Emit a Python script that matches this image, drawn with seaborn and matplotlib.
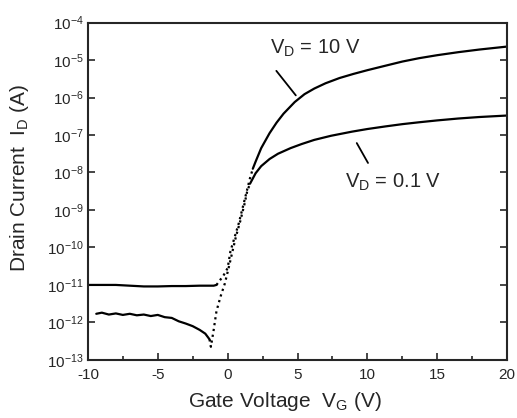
import numpy as np
import matplotlib
matplotlib.use('Agg')
import matplotlib.pyplot as plt
import seaborn as sns
from matplotlib.ticker import LogLocator, MultipleLocator, NullLocator

# Transfer curves: gate voltage (V) and log10 of drain current (A)
# V_D = 10 V
vg_10_off = [-10, -9, -8, -7, -6, -5, -4, -3, -2, -1, -0.8]
log_id_10_off = [-11.0, -11.0, -11.0, -11.02, -11.04, -11.04, -11.03, -11.03, -11.02, -11.02, -11.0]
vg_10_sub = [-0.8, -0.6, -0.3, 0.0, 0.2, 0.4, 0.6, 0.8, 1.0, 1.2, 1.4, 1.6, 1.8]
log_id_10_sub = [-11.0, -10.9, -10.75, -10.55, -10.1, -9.85, -9.6, -9.35, -9.05, -8.75, -8.45, -8.15, -7.9]
vg_10_on = [1.8, 2.0, 2.4, 3.0, 3.5, 4.0, 4.8, 5.5, 6.2, 7.0, 8.0, 9.0, 10, 11.3, 12.5, 13.7, 15,
            16.5, 18, 20]
log_id_10_on = [-7.9, -7.71, -7.35, -6.95, -6.67, -6.43, -6.12, -5.91, -5.76, -5.62, -5.48, -5.37,
                -5.27, -5.15, -5.04, -4.95, -4.87, -4.79, -4.72, -4.64]

# V_D = 0.1 V
vg_01_off = [-9.4, -9.0, -8.5, -8.0, -7.5, -7.0, -6.5, -6.0, -5.5, -5.0, -4.5, -4.0, -3.5, -3.0,
             -2.5, -2.0, -1.6, -1.3]
log_id_01_off = [-11.77, -11.74, -11.79, -11.76, -11.8, -11.77, -11.81, -11.79, -11.83, -11.8, -11.86,
                 -11.88, -11.97, -12.03, -12.1, -12.2, -12.3, -12.45]
vg_01_sub = [-1.3, -1.2, -1.0, -0.8, -0.5, -0.2, 0.1, 0.36, 0.6, 0.9, 1.2, 1.4, 1.6]
log_id_01_sub = [-12.45, -12.65, -12.2, -11.7, -11.3, -10.96, -10.5, -10.08, -9.7, -9.3, -8.85, -8.5, -8.3]
vg_01_on = [1.6, 2.0, 2.4, 3.0, 3.6, 4.5, 5.3, 6.2, 7.4, 8.9, 10, 11.3, 12.5, 13.7, 15, 16.5, 18, 20]
log_id_01_on = [-8.3, -8.02, -7.83, -7.64, -7.5, -7.35, -7.24, -7.13, -7.02, -6.91, -6.84, -6.77,
                -6.71, -6.66, -6.61, -6.56, -6.52, -6.48]

sns.set_style('ticks')
plt.rcParams['font.family'] = ['Liberation Sans', 'DejaVu Sans']
plt.rcParams['mathtext.fontset'] = 'custom'
plt.rcParams['mathtext.rm'] = 'Liberation Sans'
plt.rcParams['mathtext.it'] = 'Liberation Sans:italic'
plt.rcParams['axes.unicode_minus'] = False

fig = plt.figure(figsize=(5.17, 4.18), dpi=100)
ax = fig.add_axes([0.170, 0.139, 0.811, 0.807])

segments = [
    (vg_10_off, log_id_10_off, '-'),
    (vg_10_sub, log_id_10_sub, ':'),
    (vg_10_on, log_id_10_on, '-'),
    (vg_01_off, log_id_01_off, '-'),
    (vg_01_sub, log_id_01_sub, ':'),
    (vg_01_on, log_id_01_on, '-'),
]
for vg, logi, ls in segments:
    sns.lineplot(x=vg, y=np.power(10.0, logi), ax=ax, color='black', lw=1.6,
                 linestyle=ls, sort=False, estimator=None)

ax.set_yscale('log')
ax.set_xlim(-10, 20)
ax.set_ylim(1e-13, 1e-4)
ax.yaxis.set_major_locator(LogLocator(base=10, numticks=20))
ax.yaxis.set_minor_locator(NullLocator())
ax.xaxis.set_major_locator(MultipleLocator(5))
ax.xaxis.set_minor_locator(MultipleLocator(2.5))
ax.tick_params(axis='both', which='major', direction='in', length=5, width=1.2,
               right=True, top=False, labelsize=11)
ax.tick_params(axis='both', which='minor', direction='in', length=3, width=1.2,
               right=True, top=False)
ax.tick_params(axis='x', which='major', pad=6)
ax.tick_params(axis='y', which='major', pad=3)
for s in ax.spines.values():
    s.set_linewidth(1.5)

ax.set_xlabel('Gate Voltage  V$_\\mathregular{G}$ (V)', fontsize=15)
ax.set_ylabel('Drain Current  I$_\\mathregular{D}$ (A)', fontsize=15)
ax.xaxis.set_label_coords(0.47, -0.09)
ax.yaxis.set_label_coords(-0.135, 0.54)

ax.annotate('', xy=(5.0, 10 ** -6.0), xytext=(3.36, 10 ** -5.23),
            arrowprops=dict(arrowstyle='-', color='black', lw=1.3))
ax.text(3.0, 10 ** -4.69, 'V$_\\mathregular{D}$ = 10 V', fontsize=14.5, va='center')
ax.annotate('', xy=(10.14, 10 ** -7.81), xytext=(9.14, 10 ** -7.15),
            arrowprops=dict(arrowstyle='-', color='black', lw=1.3))
ax.text(8.4, 10 ** -8.27, 'V$_\\mathregular{D}$ = 0.1 V', fontsize=14.5, va='center')

fig.savefig('out.png', dpi=100)
